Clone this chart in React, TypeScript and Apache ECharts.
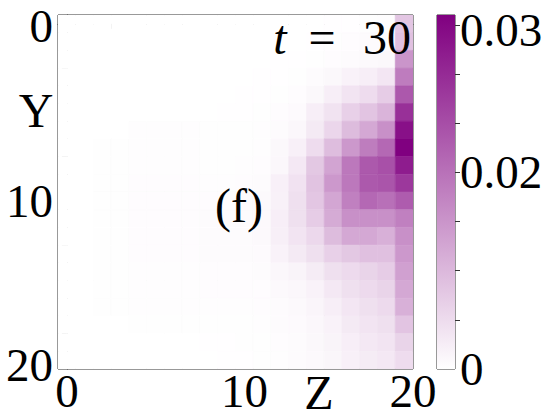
import React, { useEffect, useRef } from "react";
import * as echarts from "echarts";

// Cell indices along Z (columns) and Y (rows)
const zCells = [0, 1, 2, 3, 4, 5, 6, 7, 8, 9, 10, 11, 12, 13, 14, 15, 16, 17, 18, 19];
const yCells = [0, 1, 2, 3, 4, 5, 6, 7, 8, 9, 10, 11, 12, 13, 14, 15, 16, 17, 18, 19];

// Values per row (Y index), columns ordered by Z index
const r0 = [0, 0, 0, 0, 0, 0, 0, 0, 0, 0, 0, 0, 0, 0, 0, 0.0001, 0.0001, 0.0002, 0.0003, 0.008];
const r1 = [0, 0, 0, 0, 0, 0, 0, 0, 0, 0, 0, 0, 0, 0, 0.0001, 0.0002, 0.0004, 0.0005, 0.0006, 0.0088];
const r2 = [0, 0, 0, 0, 0, 0, 0, 0, 0, 0, 0, 0, 0.0001, 0.0001, 0.0002, 0.0004, 0.0006, 0.0008, 0.001, 0.015];
const r3 = [0, 0, 0, 0, 0, 0, 0, 0, 0, 0, 0, 0.0001, 0.0001, 0.0002, 0.0005, 0.001, 0.0018, 0.0024, 0.0035, 0.0185];
const r4 = [0, 0, 0, 0, 0, 0, 0, 0, 0, 0, 0.0001, 0.0001, 0.0002, 0.0004, 0.001, 0.0024, 0.0038, 0.0049, 0.0072, 0.0236];
const r5 = [0, 0, 0, 0, 0, 0, 0, 0, 0, 0.0001, 0.0001, 0.0002, 0.0004, 0.0007, 0.0024, 0.004, 0.0066, 0.0083, 0.0106, 0.0292];
const r6 = [0, 0, 0, 0, 0.0003, 0.0003, 0.0003, 0.0003, 0.0002, 0.0002, 0.0002, 0.0003, 0.0006, 0.0012, 0.003, 0.0058, 0.0095, 0.0123, 0.0157, 0.0337];
const r7 = [0, 0, 0.0002, 0.0002, 0.0003, 0.0003, 0.0003, 0.0003, 0.0002, 0.0002, 0.0002, 0.0003, 0.001, 0.0021, 0.0049, 0.0093, 0.0145, 0.0183, 0.0213, 0.036];
const r8 = [0, 0, 0.0002, 0.0002, 0.0003, 0.0003, 0.0003, 0.0003, 0.0002, 0.0002, 0.0003, 0.0004, 0.0012, 0.0032, 0.0078, 0.0128, 0.019, 0.0235, 0.0247, 0.032];
const r9 = [0, 0, 0.0002, 0.0002, 0.0004, 0.0004, 0.0004, 0.0004, 0.0003, 0.0003, 0.0004, 0.0005, 0.0021, 0.0041, 0.0085, 0.0145, 0.019, 0.0235, 0.024, 0.0281];
const r10 = [0, 0, 0.0002, 0.0002, 0.0004, 0.0004, 0.0004, 0.0004, 0.0004, 0.0004, 0.0005, 0.0008, 0.002, 0.0044, 0.008, 0.0125, 0.0179, 0.0213, 0.0202, 0.023];
const r11 = [0, 0, 0.0002, 0.0002, 0.0004, 0.0004, 0.0004, 0.0004, 0.0005, 0.0005, 0.0006, 0.0009, 0.0024, 0.0044, 0.0072, 0.0118, 0.0157, 0.0157, 0.0157, 0.0179];
const r12 = [0, 0, 0.0002, 0.0002, 0.0004, 0.0004, 0.0004, 0.0004, 0.0005, 0.0005, 0.0006, 0.0008, 0.0022, 0.0038, 0.0055, 0.0095, 0.0123, 0.0123, 0.0111, 0.0157];
const r13 = [0, 0, 0.0002, 0.0002, 0.0004, 0.0004, 0.0004, 0.0004, 0.0005, 0.0005, 0.0005, 0.0007, 0.0018, 0.003, 0.0044, 0.0066, 0.0078, 0.0089, 0.0089, 0.0145];
const r14 = [0, 0, 0.0002, 0.0002, 0.0003, 0.0003, 0.0003, 0.0003, 0.0004, 0.0004, 0.0004, 0.0005, 0.0012, 0.0016, 0.0027, 0.0044, 0.0052, 0.0061, 0.0072, 0.0134];
const r15 = [0, 0, 0.0002, 0.0002, 0.0003, 0.0003, 0.0003, 0.0003, 0.0004, 0.0004, 0.0004, 0.0004, 0.0008, 0.0012, 0.0018, 0.0032, 0.0044, 0.0052, 0.0061, 0.0123];
const r16 = [0, 0, 0.0002, 0.0002, 0.0003, 0.0003, 0.0003, 0.0003, 0.0003, 0.0003, 0.0003, 0.0004, 0.0006, 0.0009, 0.0014, 0.0024, 0.0035, 0.0044, 0.0052, 0.0111];
const r17 = [0, 0, 0, 0, 0.0002, 0.0002, 0.0002, 0.0002, 0.0002, 0.0002, 0.0002, 0.0003, 0.0005, 0.0007, 0.0012, 0.0018, 0.003, 0.0038, 0.0044, 0.0083];
const r18 = [0, 0, 0, 0, 0, 0, 0, 0, 0.0001, 0.0001, 0.0002, 0.0002, 0.0004, 0.0006, 0.001, 0.0016, 0.0024, 0.0032, 0.0038, 0.0061];
const r19 = [0, 0, 0, 0, 0, 0, 0, 0, 0, 0.0001, 0.0001, 0.0002, 0.0003, 0.0005, 0.0008, 0.0013, 0.0021, 0.0027, 0.0032, 0.0049];
const rows = [r0, r1, r2, r3, r4, r5, r6, r7, r8, r9, r10, r11, r12, r13, r14, r15, r16, r17, r18, r19];

// Colour scale
const vMax = 0.036;
const colorLow = "#ffffff";
const colorHigh = "#800080";

// Ticks and labels
const zTicks = [0, 2.5, 5, 7.5, 10, 12.5, 15, 17.5];
const zLabelPos = [0, 10, 19.5];
const zLabelText = ["0", "10", "20"];
const yTicks = [-0.5, 2.5, 5, 7.5, 10, 12.5, 15, 17.5];
const yLabelPos = [0.1, 10, 19.3];
const yLabelText = ["0", "10", "20"];
const cbTicks = [0.005, 0.01, 0.015, 0.02, 0.025, 0.03, 0.035];
const cbLabelPos = [0, 0.02, 0.0345];
const cbLabelText = ["0", "0.02", "0.03"];

const FONT = '"Liberation Serif", "Times New Roman", serif';

function pickLabel(pos: number[], txt: string[], v: number) {
  let best = 0;
  for (let i = 1; i < pos.length; i++) {
    if (Math.abs(pos[i] - v) < Math.abs(pos[best] - v)) best = i;
  }
  return txt[best];
}

export default function App() {
  const ref = useRef<HTMLDivElement>(null);

  useEffect(() => {
    if (!ref.current) return;
    const chart = echarts.init(ref.current, null, { renderer: "svg" });

    const data: number[][] = [];
    yCells.forEach((yi) => {
      zCells.forEach((zi) => {
        data.push([zi, yi, rows[yi][zi]]);
      });
    });

    const axisColor = "#333";
    const labelStyle = { fontFamily: FONT, fontSize: 47, color: "#000", lineHeight: 36 };

    const txt = (text: string, x: number, y: number, italic = false) => ({
      type: "text",
      x,
      y,
      z: 100,
      zlevel: 0,
      silent: true,
      style: {
        text,
        font: `${italic ? "italic " : ""}48px ${FONT}`,
        fill: "#000",
        textAlign: "center",
        textVerticalAlign: "middle",
      },
    });

    const option: any = {
      animation: false,
      backgroundColor: "#ffffff",
      grid: [
        { left: 58, top: 15, width: 355, height: 354, show: true, borderColor: axisColor, borderWidth: 1, backgroundColor: "transparent" },
        { left: 437, top: 15, width: 18, height: 354, show: true, borderColor: axisColor, borderWidth: 1, backgroundColor: "transparent" },
      ],
      xAxis: [
        {
          type: "value",
          gridIndex: 0,
          min: -0.5,
          max: 19.5,
          splitLine: { show: false },
          axisLine: { show: true, lineStyle: { color: axisColor, width: 1 } },
          axisTick: { show: true, customValues: zTicks, length: 5, inside: false, lineStyle: { color: axisColor } },
          axisLabel: {
            ...labelStyle,
            customValues: zLabelPos,
            showMinLabel: true,
            showMaxLabel: true,
            margin: 4,
            formatter: (v: number) => pickLabel(zLabelPos, zLabelText, v),
          },
        },
        { type: "category", gridIndex: 1, data: ["cb"], show: false, boundaryGap: true },
      ],
      yAxis: [
        {
          type: "value",
          gridIndex: 0,
          inverse: true,
          min: -0.5,
          max: 19.5,
          splitLine: { show: false },
          axisLine: { show: true, lineStyle: { color: axisColor, width: 1 } },
          axisTick: { show: true, customValues: yTicks, length: 5, inside: false, lineStyle: { color: axisColor } },
          axisLabel: {
            ...labelStyle,
            customValues: yLabelPos,
            showMinLabel: true,
            showMaxLabel: true,
            margin: 5,
            formatter: (v: number) => pickLabel(yLabelPos, yLabelText, v),
          },
        },
        {
          type: "value",
          gridIndex: 1,
          position: "right",
          min: 0,
          max: vMax,
          splitLine: { show: false },
          axisLine: { show: false },
          axisTick: { show: true, customValues: cbTicks, length: 5, inside: false, lineStyle: { color: axisColor } },
          axisLabel: {
            ...labelStyle,
            customValues: cbLabelPos,
            showMinLabel: true,
            showMaxLabel: true,
            margin: 5,
            formatter: (v: number) => pickLabel(cbLabelPos, cbLabelText, v),
          },
        },
      ],
      visualMap: {
        show: false,
        type: "continuous",
        min: 0,
        max: vMax,
        seriesIndex: 0,
        dimension: 2,
        inRange: { color: [colorLow, colorHigh] },
      },
      series: [
        {
          type: "custom",
          xAxisIndex: 0,
          yAxisIndex: 0,
          clip: true,
          z: 1,
          encode: { x: 0, y: 1 },
          data,
          renderItem: (params: any, api: any) => {
            const x = api.value(0);
            const y = api.value(1);
            const p1 = api.coord([x - 0.5, y - 0.5]);
            const p2 = api.coord([x + 0.5, y + 0.5]);
            const c = api.visual("color");
            return {
              type: "rect",
              shape: {
                x: Math.min(p1[0], p2[0]),
                y: Math.min(p1[1], p2[1]),
                width: Math.abs(p2[0] - p1[0]),
                height: Math.abs(p2[1] - p1[1]),
              },
              style: { fill: c, stroke: c, lineWidth: 0.6 },
            };
          },
        },
        {
          type: "bar",
          xAxisIndex: 1,
          yAxisIndex: 1,
          data: [vMax],
          barWidth: "100%",
          itemStyle: {
            color: new echarts.graphic.LinearGradient(0, 0, 0, 1, [
              { offset: 0, color: colorHigh },
              { offset: 1, color: colorLow },
            ]),
          },
          silent: true,
        },
      ],
      graphic: {
        elements: [
          txt("Y", 36, 110),
          txt("Z", 319, 392),
          txt("t", 280, 37, true),
          txt("=", 322, 37),
          txt("30", 387, 37),
          txt("(f)", 239, 205),
        ],
      },
    };

    chart.setOption(option);
    return () => chart.dispose();
  }, []);

  return (
    <div
      ref={ref}
      style={{ position: "fixed", left: 0, top: 0, width: 553, height: 420, background: "#fff" }}
    />
  );
}
